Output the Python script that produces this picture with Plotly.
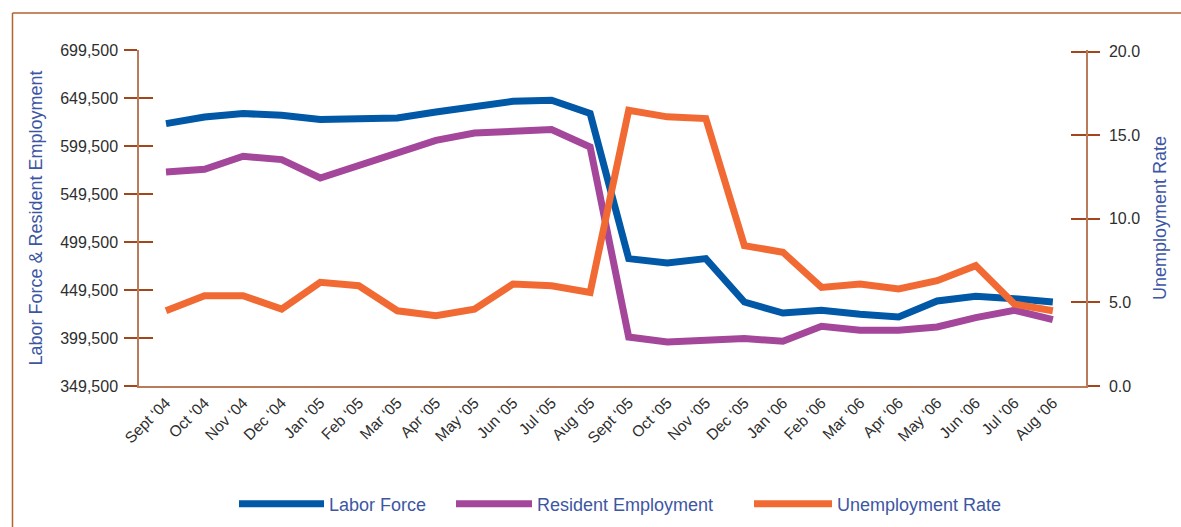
import plotly.graph_objects as go

# Monthly labor market figures, Sept 2004 - Aug 2006
months = [
    "Sept ‘04", "Oct ‘04", "Nov ‘04", "Dec ‘04", "Jan ‘05", "Feb ‘05",
    "Mar ‘05", "Apr ‘05", "May ‘05", "Jun ‘05", "Jul ‘05", "Aug ‘05",
    "Sept ‘05", "Oct ‘05", "Nov ‘05", "Dec ‘05", "Jan ‘06", "Feb ‘06",
    "Mar ‘06", "Apr ‘06", "May ‘06", "Jun ‘06", "Jul ‘06", "Aug ‘06",
]
labor_force = [
    622800, 629700, 633300, 631500, 627000, 627000, 628700, 634900,
    640900, 646100, 647100, 633300, 482200, 477600, 482200, 437000,
    425500, 428400, 424200, 421400, 438000, 442900, 440500, 437000,
]
resident_employment = [
    572400, 575200, 588800, 585300, 566200, 579400, 590900, 605400,
    613000, 615100, 616600, 598500, 400500, 395300, 397800, 398900,
    396100, 411700, 407500, 407500, 411000, 420800, 428400, 418700,
]
unemployment_rate = [
    4.5, 5.4, 5.4, 4.6, 6.2, 6.0, 4.5, 4.2, 4.6, 6.1, 6.0, 5.6,
    16.5, 16.1, 16.0, 8.4, 8.0, 5.9, 6.1, 5.8, 6.3, 7.2, 4.9, 4.5,
]
left_ticks = [349500, 399500, 449500, 499500, 549500, 599500, 649500, 699500]
right_ticks = [0, 5, 10, 15, 20]

W, H = 1181, 527
ML, MR, MT, MB = 139, 95, 50, 141
PW, PH = W - ML - MR, H - MT - MB

BLUE = "#0058a6"
PURPLE = "#a4479b"
ORANGE = "#f26a33"
AXIS = "#bb7a58"
TICK = "#a4461d"
FRAME = "#b4622f"
TITLE = "#3d56a3"
LABEL = "#2e2e2e"
FONT = "Liberation Sans, Arial, Helvetica, sans-serif"


def px_x(p):
    return (p - ML) / PW


def px_y(p):
    return (H - MB - p) / PH


def legend_box(left_px, item_w):
    # one single-entry legend, placed in container coordinates
    return dict(
        orientation="h", xref="container", yref="container",
        xanchor="left", yanchor="middle",
        x=left_px / W, y=(H - 504) / H,
        font=dict(size=18, color=TITLE),
        itemwidth=item_w, bgcolor="rgba(0,0,0,0)",
    )


fig = go.Figure()
fig.add_trace(go.Scatter(
    x=months, y=labor_force, name="Labor Force", mode="lines",
    line=dict(color=BLUE, width=7), yaxis="y", legend="legend",
))
fig.add_trace(go.Scatter(
    x=months, y=resident_employment, name="Resident Employment", mode="lines",
    line=dict(color=PURPLE, width=7), yaxis="y", legend="legend2",
))
fig.add_trace(go.Scatter(
    x=months, y=unemployment_rate, name="Unemployment Rate", mode="lines",
    line=dict(color=ORANGE, width=7), yaxis="y2", legend="legend3",
))

left_range = [349500, 699500]
right_range = [0, 20.1]

fig.update_layout(
    width=W, height=H,
    margin=dict(l=ML, r=MR, t=MT, b=MB, pad=0),
    paper_bgcolor="white", plot_bgcolor="white",
    font=dict(family=FONT, color=LABEL),
    hovermode=False,
    xaxis=dict(
        type="category", range=[-0.7, 23.86],
        showgrid=False, zeroline=False,
        showline=True, linecolor=AXIS, linewidth=1.5,
        ticks="", tickangle=-45,
        tickfont=dict(size=15.5, color=LABEL),
    ),
    yaxis=dict(
        range=left_range, tickvals=left_ticks,
        ticktext=[f"{v:,}" for v in left_ticks],
        showgrid=False, zeroline=False,
        showline=True, linecolor=AXIS, linewidth=1.5,
        ticks="outside", ticklen=13, tickwidth=1.6, tickcolor=TICK,
        ticklabelstandoff=3,
        tickfont=dict(size=16, color=LABEL),
        title=dict(text="Labor Force & Resident Employment",
                   font=dict(size=18, color=TITLE), standoff=13),
    ),
    yaxis3=dict(
        overlaying="y", side="left", range=left_range, tickvals=left_ticks,
        showgrid=False, zeroline=False, showline=False,
        ticks="inside", ticklen=14, tickwidth=1.6, tickcolor=TICK,
        showticklabels=False,
    ),
    yaxis2=dict(
        overlaying="y", side="right", range=right_range, tickvals=right_ticks,
        ticktext=[f"{v:.1f}" for v in right_ticks],
        showgrid=False, zeroline=False,
        showline=True, linecolor=AXIS, linewidth=1.5,
        ticks="outside", ticklen=12, tickwidth=1.6, tickcolor=TICK,
        ticklabelstandoff=6,
        tickfont=dict(size=16, color=LABEL),
        title=dict(text="Unemployment Rate",
                   font=dict(size=18, color=TITLE), standoff=14),
    ),
    yaxis4=dict(
        overlaying="y", side="right", range=right_range, tickvals=right_ticks,
        showgrid=False, zeroline=False, showline=False,
        ticks="inside", ticklen=15, tickwidth=1.6, tickcolor=TICK,
        showticklabels=False,
    ),
    legend=legend_box(234, 85),
    legend2=legend_box(451, 76),
    legend3=legend_box(749, 78),
    shapes=[
        # outer frame: left edge and top edge
        dict(type="line", xref="paper", yref="paper",
             x0=px_x(12.5), x1=px_x(12.5), y0=px_y(13), y1=px_y(H + 2),
             line=dict(color=FRAME, width=1.5)),
        dict(type="line", xref="paper", yref="paper",
             x0=px_x(12.5), x1=px_x(W + 2), y0=px_y(13), y1=px_y(13),
             line=dict(color=FRAME, width=1.5)),
    ],
)

# empty traces so the overlay tick axes are rendered
fig.add_trace(go.Scatter(x=[months[0]], y=[None], yaxis="y3",
                         showlegend=False, hoverinfo="skip"))
fig.add_trace(go.Scatter(x=[months[0]], y=[None], yaxis="y4",
                         showlegend=False, hoverinfo="skip"))

fig.write_html("out.html")
